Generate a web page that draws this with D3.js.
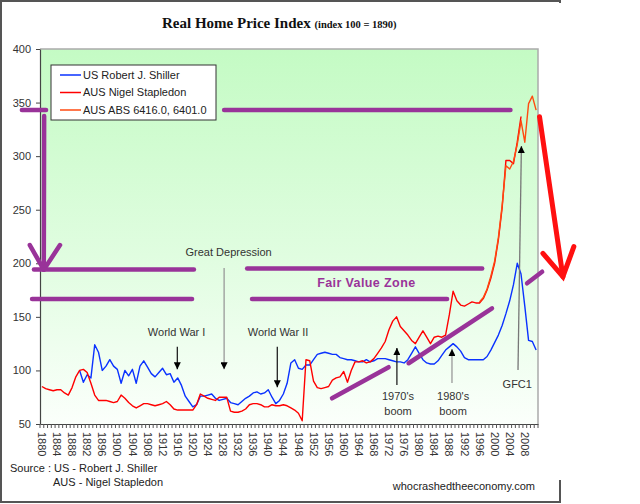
<!DOCTYPE html>
<html>
<head>
<meta charset="utf-8">
<script src="https://cdn.jsdelivr.net/npm/d3@7"></script>
<style>
  body { margin: 0; background: #fff; }
  text { font-family: "Liberation Sans", Arial, sans-serif; }
</style>
</head>
<body>
<div id="chart"></div>
<script>
// ---- data ----
var firstYear = 1880
var lastYear = 2011

var shillerStart = 1890
var shillerValues = [
  100, 89, 96, 93, 124, 117, 100, 104, 110, 104,
  101, 88, 100, 95, 101, 88, 104, 109, 103, 97,
  94, 98, 102, 96, 97, 89, 93, 86, 76, 71,
  66, 68, 76, 76, 77, 78, 74, 72, 73, 74,
  70, 69, 68, 71, 74, 76, 79, 80, 78, 79,
  82, 75, 69, 72, 78, 88, 107, 110, 102, 101,
  105, 105, 110, 115, 116, 117, 116, 115, 115, 112,
  111, 110, 110, 109, 108, 108, 110, 108, 109, 111,
  111, 111, 110, 109, 108, 108, 107, 110, 116, 122,
  116, 110, 107, 106, 106, 109, 114, 119, 122, 125,
  122, 118, 112, 110, 110, 110, 110, 110, 113, 119,
  126, 133, 142, 153, 165, 180, 200, 190, 160, 128,
  127, 119
]

var stapledonStart = 1880
var stapledonValues = [
  85, 83, 82, 81, 82, 82, 79, 77, 84, 94,
  100, 101, 98, 88, 77, 72, 72, 72, 71, 70,
  71, 77, 74, 70, 67, 65, 67, 69, 69, 68,
  67, 68, 69, 71, 68, 64, 63, 63, 63, 63,
  63, 68, 78, 76, 74, 73, 72, 75, 75, 75,
  62, 61, 61, 62, 64, 68, 69, 69, 68, 66,
  66, 68, 67, 67, 68, 67, 65, 63, 60, 53,
  110, 109, 90, 84, 83, 84, 85, 91, 93, 94,
  99, 89, 100, 108, 108, 109, 107, 108, 111, 116,
  121, 127, 138, 146, 150, 141, 137, 133, 128, 125,
  131, 137, 131, 125, 131, 132, 131, 133, 152, 174,
  165, 161, 160, 162, 164, 163, 163, 167, 175, 186,
  200, 222, 252, 296, 296, 293, 313, 337
]

var absStart = 1996
var absValues = [
  164, 168, 176, 188, 202, 224, 254, 291, 288, 295,
  311, 333, 313, 349, 356, 343
]

var seriesNames = ['US Robert J. Shiller', 'AUS Nigel Stapledon', 'AUS ABS 6416.0, 6401.0']
var seriesColors = ['#0a32ff', '#ff0000', '#ff4a10']
var yTickValues = [50, 100, 150, 200, 250, 300, 350, 400]
var xTickLabels = [1880, 1884, 1888, 1892, 1896, 1900, 1904, 1908, 1912, 1916, 1920,
  1924, 1928, 1932, 1936, 1940, 1944, 1948, 1952, 1956, 1960, 1964, 1968, 1972,
  1976, 1980, 1984, 1988, 1992, 1996, 2000, 2004, 2008]

// ---- layout ----
var width = 640
var height = 504
var plot = { left: 40, right: 538, top: 49, bottom: 424 }

var svg = d3.select('#chart')
  .append('svg')
  .attr('width', width)
  .attr('height', height)

var years = d3.range(firstYear, lastYear + 1)

var x = d3.scaleBand()
  .domain(years)
  .range([plot.left, plot.right])
  .padding(0)
var xc = function (yr) { return x(yr) + x.bandwidth() / 2 }
// continuous version of the category axis, for annotations
var xa = d3.scaleLinear()
  .domain([firstYear, lastYear])
  .range([xc(firstYear), xc(lastYear)])

var y = d3.scaleLinear()
  .domain([50, 400])
  .range([plot.bottom, plot.top])

// gradient background of the plot area
var defs = svg.append('defs')
var grad = defs.append('linearGradient')
  .attr('id', 'bg')
  .attr('x1', 0).attr('y1', 0).attr('x2', 0).attr('y2', 1)
grad.append('stop').attr('offset', '0%').attr('stop-color', '#c4fbc4')
grad.append('stop').attr('offset', '55%').attr('stop-color', '#e0fde0')
grad.append('stop').attr('offset', '100%').attr('stop-color', '#fbfffb')

defs.append('marker')
  .attr('id', 'head')
  .attr('viewBox', '0 0 10 10')
  .attr('refX', 10).attr('refY', 5)
  .attr('markerWidth', 7).attr('markerHeight', 7)
  .attr('markerUnits', 'userSpaceOnUse')
  .attr('orient', 'auto')
  .append('path')
  .attr('d', 'M0,0 L10,5 L0,10 z')
  .attr('fill', '#000')

svg.append('rect')
  .attr('x', plot.left)
  .attr('y', plot.top)
  .attr('width', plot.right - plot.left)
  .attr('height', plot.bottom - plot.top)
  .attr('fill', 'url(#bg)')

// plot frame: top and right in light grey
svg.append('path')
  .attr('d', 'M' + plot.left + ',' + plot.top + 'H' + plot.right + 'V' + plot.bottom)
  .attr('fill', 'none')
  .attr('stroke', '#aaa')
  .attr('stroke-width', 1.5)

// outer picture frame (right side is mostly missing)
svg.append('path')
  .attr('d', 'M560,3V1H1V502H560V480')
  .attr('fill', 'none')
  .attr('stroke', '#555')
  .attr('stroke-width', 2)

// title
var title = svg.append('text')
  .attr('x', 162)
  .attr('y', 28)
  .style('font-family', '"Liberation Serif", "Times New Roman", serif')
  .style('font-weight', 'bold')
  .style('fill', '#111')
title.append('tspan').style('font-size', '15px').text('Real Home Price Index ')
title.append('tspan').style('font-size', '10.5px').text('(index 100 = 1890)')

// y axis
var yAxis = svg.append('g')
  .attr('transform', 'translate(' + plot.left + ',0)')
  .call(d3.axisLeft(y).tickValues(yTickValues).tickSize(4).tickPadding(5).tickSizeOuter(0))
yAxis.select('.domain').attr('stroke', '#444').attr('stroke-width', 1.2)
yAxis.selectAll('.tick line').attr('stroke', '#444')
yAxis.selectAll('text')
  .style('font-size', '11px')
  .style('fill', '#333')

// x axis: labels every 4 years, rotated; minor tick on each category boundary
var xAxis = svg.append('g')
  .attr('transform', 'translate(0,' + plot.bottom + ')')
  .call(d3.axisBottom(x).tickValues(xTickLabels).tickSize(0).tickSizeOuter(0))
xAxis.select('.domain').attr('stroke', '#444').attr('stroke-width', 1.2)
xAxis.selectAll('text')
  .attr('y', 0)
  .attr('x', 8)
  .attr('dy', '0.35em')
  .attr('transform', 'rotate(90)')
  .style('text-anchor', 'start')
  .style('font-size', '11px')
  .style('fill', '#333')

svg.append('g')
  .selectAll('line')
  .data(years.concat([lastYear + 1]))
  .enter()
  .append('line')
  .attr('x1', function (d) { return d <= lastYear ? x(d) : plot.right })
  .attr('x2', function (d) { return d <= lastYear ? x(d) : plot.right })
  .attr('y1', plot.bottom)
  .attr('y2', plot.bottom + 4)
  .attr('stroke', '#555')
  .attr('stroke-width', 1)

// ---- series ----
function toPoints(start, values) {
  return values.map(function (v, i) { return { year: start + i, value: v } })
}
var series = [
  toPoints(shillerStart, shillerValues),
  toPoints(stapledonStart, stapledonValues),
  toPoints(absStart, absValues)
]

var line = d3.line()
  .x(function (d) { return xc(d.year) })
  .y(function (d) { return y(d.value) })

svg.append('g')
  .selectAll('path')
  .data(series)
  .enter()
  .append('path')
  .attr('d', line)
  .attr('fill', 'none')
  .attr('stroke', function (d, i) { return seriesColors[i] })
  .attr('stroke-width', 1.4)
  .attr('stroke-linejoin', 'round')

// ---- legend ----
var legend = svg.append('g')
legend.append('rect')
  .attr('x', 51).attr('y', 65)
  .attr('width', 165).attr('height', 55)
  .attr('fill', '#fff')
  .attr('stroke', '#333')
  .attr('stroke-width', 1)
var items = legend.selectAll('g.item')
  .data(seriesNames)
  .enter()
  .append('g')
  .attr('class', 'item')
  .attr('transform', function (d, i) { return 'translate(60,' + (75 + i * 17.5) + ')' })
items.append('line')
  .attr('x1', 0).attr('x2', 21)
  .attr('stroke', function (d, i) { return seriesColors[i] })
  .attr('stroke-width', 1.5)
items.append('text')
  .attr('x', 23)
  .attr('dy', '0.35em')
  .style('font-size', '11px')
  .style('fill', '#222')
  .text(function (d) { return d })

// ---- annotations (data coordinates) ----
var purple = '#993399'
var purpleLines = [
  [[1874.7, 343], [1881.1, 343]],
  [[1928.3, 343], [2004.2, 343]],
  [[1880.6, 337.5], [1880.5, 194]],
  [[1876.8, 217], [1880.5, 194], [1884.8, 217]],
  [[1877.9, 194.2], [1920.3, 194.2]],
  [[1934.4, 195.2], [1996.7, 195.2]],
  [[1877.4, 166.7], [1919.8, 166.7]],
  [[1935.7, 166.7], [1987.4, 166.7]],
  [[1956.9, 74], [1971.9, 103]],
  [[1977.2, 106.7], [1999.3, 158]],
  [[2008.6, 181.3], [2012.6, 192.1]]
]
var annLine = d3.line()
  .x(function (d) { return xa(d[0]) })
  .y(function (d) { return y(d[1]) })

svg.append('g')
  .selectAll('path')
  .data(purpleLines)
  .enter()
  .append('path')
  .attr('d', annLine)
  .attr('fill', 'none')
  .attr('stroke', purple)
  .attr('stroke-width', 4.5)
  .attr('stroke-linecap', 'round')
  .attr('stroke-linejoin', 'round')

svg.append('text')
  .attr('x', xa(1966))
  .attr('y', y(178))
  .style('text-anchor', 'middle')
  .style('font-size', '12.5px')
  .style('font-weight', 'bold')
  .style('letter-spacing', '0.4px')
  .style('fill', purple)
  .text('Fair Value Zone')

// big red arrow to the right
var redArrow = [
  [[2011.9, 336.8], [2018.1, 187.5]],
  [[2012.8, 209.3], [2018.1, 187.5], [2021, 215.5]]
]
svg.append('g')
  .selectAll('path')
  .data(redArrow)
  .enter()
  .append('path')
  .attr('d', annLine)
  .attr('fill', 'none')
  .attr('stroke', '#ff1010')
  .attr('stroke-width', 5)
  .attr('stroke-linecap', 'round')
  .attr('stroke-linejoin', 'miter')

// event arrows: [from, to, colour]
var eventArrows = [
  [[1915.9, 122], [1915.9, 101], '#222'],
  [[1928.3, 195.6], [1928.3, 101], '#999'],
  [[1942.4, 122], [1942.4, 84.3], '#222'],
  [[1974.1, 86.4], [1974.1, 121], '#222'],
  [[1988.7, 88.3], [1988.7, 120], '#999'],
  [[2006.2, 100.4], [2007.1, 309.5], '#777']
]
svg.append('g')
  .selectAll('line')
  .data(eventArrows)
  .enter()
  .append('line')
  .attr('x1', function (d) { return xa(d[0][0]) })
  .attr('y1', function (d) { return y(d[0][1]) })
  .attr('x2', function (d) { return xa(d[1][0]) })
  .attr('y2', function (d) { return y(d[1][1]) })
  .attr('stroke', function (d) { return d[2] })
  .attr('stroke-width', 1.3)
  .attr('marker-end', 'url(#head)')

// event labels: [year, value, text]
var eventLabels = [
  [1915.7, 132, 'World War I'],
  [1929.5, 207, 'Great Depression'],
  [1942.6, 132, 'World War II'],
  [1974.4, 72, "1970's"],
  [1974.4, 58.5, 'boom'],
  [1989, 72, "1980's"],
  [1989, 58.5, 'boom'],
  [2006, 83.5, 'GFC1']
]
svg.append('g')
  .selectAll('text')
  .data(eventLabels)
  .enter()
  .append('text')
  .attr('x', function (d) { return xa(d[0]) })
  .attr('y', function (d) { return y(d[1]) })
  .style('text-anchor', 'middle')
  .style('font-size', '11px')
  .style('fill', '#333')
  .text(function (d) { return d[2] })

// footer
svg.append('text')
  .attr('x', 10).attr('y', 472)
  .style('font-size', '11px').style('fill', '#222')
  .text('Source : US - Robert J. Shiller')
svg.append('text')
  .attr('x', 53).attr('y', 486)
  .style('font-size', '11px').style('fill', '#222')
  .text('AUS - Nigel Stapledon')
svg.append('text')
  .attr('x', 535).attr('y', 490)
  .style('text-anchor', 'end')
  .style('font-size', '11px').style('fill', '#222')
  .text('whocrashedtheeconomy.com')
</script>
</body>
</html>
